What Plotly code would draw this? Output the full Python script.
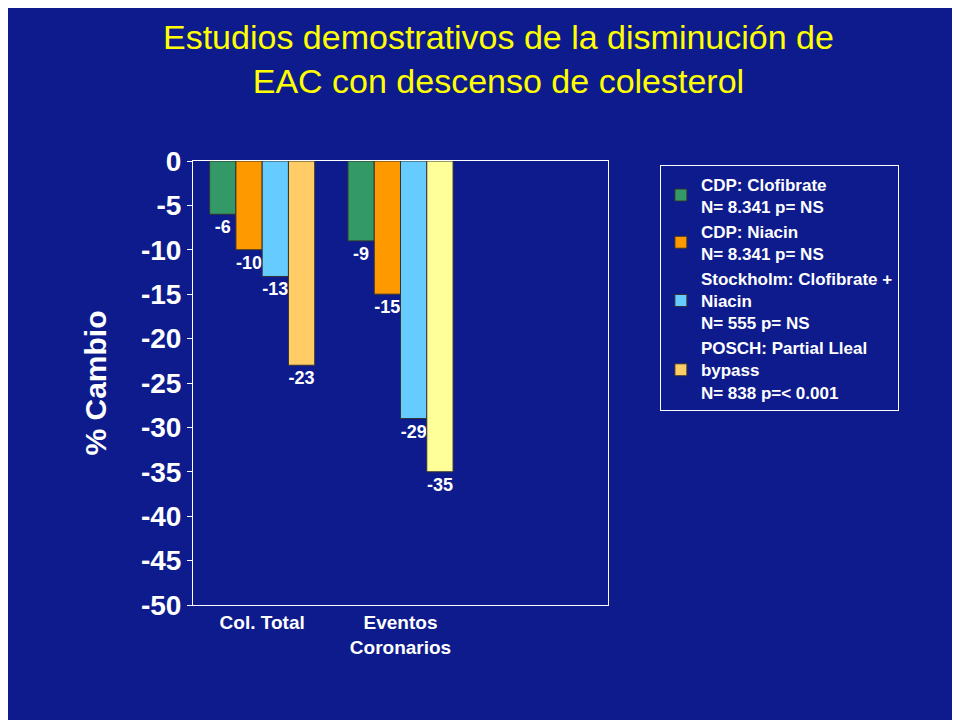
import plotly.graph_objects as go

categories = ["Col. Total", "Eventos<br>Coronarios", " "]
series_names = [
    "CDP: Clofibrate<br>N= 8.341 p= NS",
    "CDP: Niacin<br>N= 8.341 p= NS",
    "Stockholm: Clofibrate +<br>Niacin<br>N= 555 p= NS",
    "POSCH: Partial Lleal<br>bypass<br>N= 838 p=< 0.001",
]
values = [
    [-6, -9, None],
    [-10, -15, None],
    [-13, -29, None],
    [-23, -35, None],
]
colors = [
    ["#339966"] * 3,
    ["#FF9900"] * 3,
    ["#66CCFF"] * 3,
    ["#FFCC66", "#FFFF99", "#FFFF99"],
]
yticks = list(range(0, -55, -5))

fig = go.Figure()
for i, (name, vals, col) in enumerate(zip(series_names, values, colors)):
    fig.add_trace(go.Bar(
        x=categories, y=vals, name=name, legendgroup="g%d" % i,
        marker=dict(color=col, line=dict(color="#333333", width=1)),
        text=[("%d" % v) if v is not None else "" for v in vals],
        textposition="outside", cliponaxis=False,
        textfont=dict(family="Arial", size=18, color="white", weight="bold"),
    ))

fig.update_layout(
    width=960, height=720,
    paper_bgcolor="#0d1b8c", plot_bgcolor="rgba(0,0,0,0)",
    margin=dict(l=185, r=360, t=153, b=123),
    barmode="group", bargap=0.24, bargroupgap=0,
    font=dict(family="Arial", color="white"),
    showlegend=True,
    legend=dict(
        x=1.125, xanchor="left", y=0.99, yanchor="top",
        bordercolor="white", borderwidth=1, bgcolor="rgba(0,0,0,0)",
        font=dict(family="Arial", size=17, color="white", weight="bold"),
        tracegroupgap=48, traceorder="normal",
    ),
    xaxis=dict(showline=True, linecolor="white", linewidth=1, mirror=True,
               tickfont=dict(family="Arial", size=19, color="white", weight="bold"), ticks=""),
    yaxis=dict(range=[-50, 0], tickvals=yticks, ticktext=[str(v) for v in yticks],
               showgrid=False, showline=True, zeroline=False,
               linecolor="white", mirror=True, ticks="outside", tickcolor="white",
               tickfont=dict(family="Arial", size=28, color="white", weight="bold"),
               title=dict(text="% Cambio", font=dict(family="Arial", size=30, color="white", weight="bold"), standoff=25)),
    annotations=[dict(
        text="Estudios demostrativos de la disminución de<br>EAC con descenso de colesterol",
        x=0.735, y=1, xref="paper", yref="paper", yanchor="top", xanchor="center",
        yshift=145, showarrow=False,
        font=dict(family="Arial", size=34, color="#FFFF00"))],
)
fig.write_html("out.html")
